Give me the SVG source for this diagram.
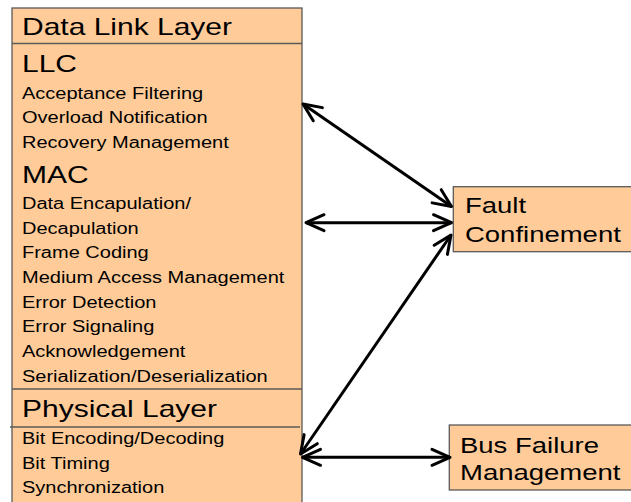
<svg xmlns="http://www.w3.org/2000/svg" width="631" height="502" viewBox="0 0 631 502">
<style>
.box{fill:#FFCC99;stroke:#5a5a5a;stroke-width:1.3}
.sep{stroke:#5a5a5a;stroke-width:1.3}
text{font-family:"Liberation Sans",Arial,sans-serif;fill:#000}
.big{font-size:24px}
.small{font-size:16px}
.node{font-size:22px}
.conn{stroke:#000;stroke-width:3;fill:none;marker-start:url(#arr);marker-end:url(#arr)}
</style>
<defs>
<marker id="arr" markerUnits="userSpaceOnUse" viewBox="-22 -11 26 22" markerWidth="26" markerHeight="22" refX="0" refY="0" orient="auto-start-reverse" overflow="visible">
<path d="M-18,-8 L0,0 L-18,8" fill="none" stroke="#000" stroke-width="3" stroke-linejoin="round" stroke-linecap="round"/>
</marker>
</defs>
<rect width="631" height="502" fill="#fff"/>
<g id="data-link-layer">
<rect class="box" x="12" y="8" width="290" height="510"/>
<line class="sep" x1="12" y1="43.5" x2="302" y2="43.5"/>
<line class="sep" x1="12" y1="389" x2="302" y2="389"/>
<line class="sep" x1="10" y1="427" x2="300" y2="427"/>
<g transform="scale(1.25,1)">
<text class="big" x="17.6" y="35">Data Link Layer</text>
<g id="llc">
<text class="big" x="17.6" y="72">LLC</text>
<text class="small" x="17.6" y="99">Acceptance Filtering</text>
<text class="small" x="17.6" y="123.5">Overload Notification</text>
<text class="small" x="17.6" y="148">Recovery Management</text>
</g>
<g id="mac">
<text class="big" x="17.6" y="183">MAC</text>
<text class="small" x="17.6" y="209">Data Encapulation/</text>
<text class="small" x="17.6" y="233.7">Decapulation</text>
<text class="small" x="17.6" y="258.4">Frame Coding</text>
<text class="small" x="17.6" y="283.1">Medium Access Management</text>
<text class="small" x="17.6" y="307.8">Error Detection</text>
<text class="small" x="17.6" y="332.5">Error Signaling</text>
<text class="small" x="17.6" y="357.2">Acknowledgement</text>
<text class="small" x="17.6" y="381.9">Serialization/Deserialization</text>
</g>
<g id="physical-layer">
<text class="big" x="17.6" y="417">Physical Layer</text>
<text class="small" x="17.6" y="444">Bit Encoding/Decoding</text>
<text class="small" x="17.6" y="468.7">Bit Timing</text>
<text class="small" x="17.6" y="493.3">Synchronization</text>
</g>
</g>
</g>
<g id="fault-confinement">
<rect class="box" x="453.3" y="186.7" width="190" height="65"/>
<g transform="scale(1.25,1)">
<text class="node" x="372" y="213.3">Fault</text>
<text class="node" x="372" y="241.7">Confinement</text>
</g>
</g>
<g id="bus-failure-management">
<rect class="box" x="449.3" y="425" width="190" height="65"/>
<g transform="scale(1.25,1)">
<text class="node" x="368" y="452.7">Bus Failure</text>
<text class="node" x="368" y="480">Management</text>
</g>
</g>
<g id="connectors">
<line class="conn" x1="303" y1="104" x2="451.5" y2="206.5"/>
<line class="conn" x1="306" y1="222.7" x2="451.5" y2="222.7"/>
<line class="conn" x1="300.5" y1="454" x2="451" y2="235"/>
<line class="conn" x1="302.5" y1="457.3" x2="450" y2="457.3"/>
</g>
</svg>
